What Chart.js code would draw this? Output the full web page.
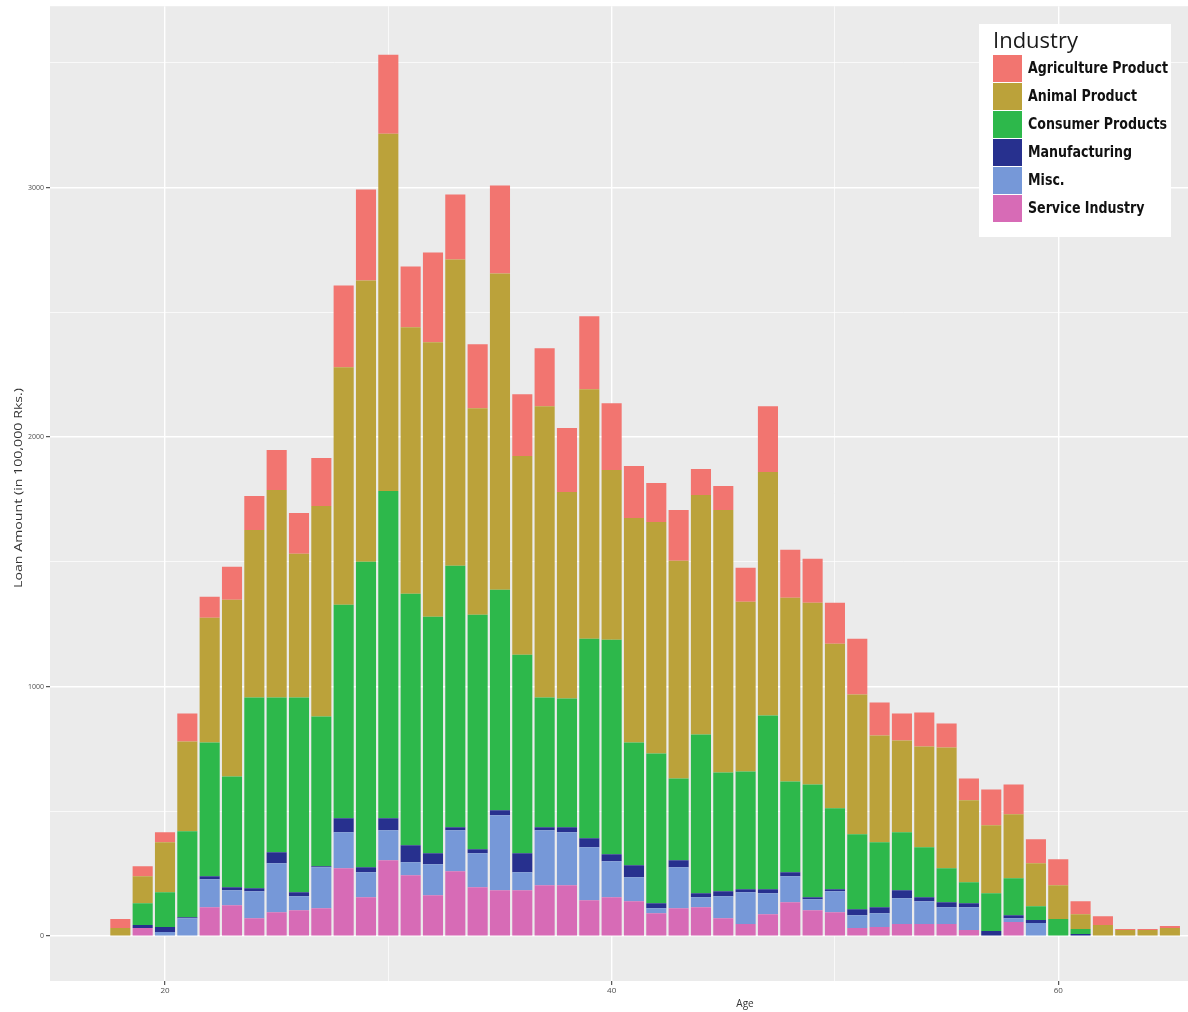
<!DOCTYPE html>
<html>
<head>
<meta charset="utf-8">
<script src="https://cdn.jsdelivr.net/npm/chart.js@4.4.1/dist/chart.umd.min.js"></script>
<style>
html,body{margin:0;padding:0;background:#ffffff;}
#wrap{position:relative;width:1188px;height:1012px;}
canvas{display:block;}
</style>
</head>
<body>
<div id="wrap"><canvas id="c" width="1188" height="1012"></canvas></div>
<script>
// ---- data ----
const ages = [18,19,20,21,22,23,24,25,26,27,28,29,30,31,32,33,34,35,36,37,38,39,40,41,42,43,44,45,46,47,48,49,50,51,52,53,54,55,56,57,58,59,60,61,62,63,64,65];
const serviceIndustry   = [0,32,0,0,116,124,72,96,104,112,272,156,304,244,164,260,196,184,184,204,204,144,156,140,92,112,116,72,48,88,136,104,96,32,36,48,48,48,24,0,56,0,0,0,0,0,0,0];
const miscIndustry      = [0,0,16,72,112,60,108,196,56,164,144,100,120,52,124,164,136,300,72,220,212,212,144,96,20,164,40,88,128,84,104,44,84,52,56,104,92,68,92,0,16,52,0,0,0,0,0,0];
const manufacturing     = [0,12,20,4,12,12,12,44,16,4,56,20,48,68,44,12,16,20,76,12,20,36,28,48,20,28,16,20,12,16,16,8,8,24,24,32,16,20,16,20,12,12,0,8,0,0,0,0];
const consumerProducts  = [0,88,140,344,536,444,764,620,780,600,856,1224,1312,1008,948,1048,940,884,796,520,516,800,860,492,600,328,636,476,472,696,364,452,324,300,260,232,200,136,84,152,148,56,68,20,0,0,0,0];
const animalProduct     = [32,108,200,360,500,708,672,832,576,844,952,1128,1432,1068,1100,1228,828,1268,796,1168,828,1000,680,900,928,872,960,1052,680,976,736,728,660,560,428,368,404,484,328,272,256,172,136,60,44,24,24,32];
const agricultureProduct= [36,40,40,112,84,132,136,160,164,192,328,364,316,244,360,260,256,352,248,232,256,292,268,208,156,204,104,96,136,264,192,176,164,224,132,108,136,96,88,144,120,96,104,52,36,4,4,8];

// stacking order: bottom to top
const seriesNames  = ['Service Industry','Misc.','Manufacturing','Consumer Products','Animal Product','Agriculture Product'];
const seriesValues = [serviceIndustry, miscIndustry, manufacturing, consumerProducts, animalProduct, agricultureProduct];
const seriesColors = ['#D76BB6','#7698D8','#27308E','#2DB84B','#BBA23A','#F27570'];

const xTickValues = [20,30,40,50,60];
const xTickLabels = ['20','','40','','60'];
const yTickValues = [0,500,1000,1500,2000,2500,3000,3500];
const yTickLabels = ['0','','1000','','2000','','3000',''];
const legendTitle = 'Industry';
const xTitle = 'Age';
const yTitle = 'Loan Amount (in 100,000 Rks.)';

// ---- chart ----
const datasets = seriesNames.map((name, i) => ({
  label: name,
  data: ages.map((a, j) => ({x: a, y: seriesValues[i][j]})),
  backgroundColor: seriesColors[i],
  borderWidth: 0,
  barPercentage: 0.9,
  categoryPercentage: 1.0
}));

const panelBg = {
  id: 'panelBg',
  beforeDraw(chart) {
    const a = chart.chartArea, ctx = chart.ctx;
    ctx.save();
    ctx.fillStyle = '#EBEBEB';
    ctx.fillRect(a.left, a.top, a.right - a.left, a.bottom - a.top);
    ctx.restore();
  }
};

const extras = {
  id: 'extras',
  afterDraw(chart) {
    const ctx = chart.ctx;
    ctx.save();
    // axis titles
    ctx.fillStyle = '#333333';
    ctx.font = '10px "Open Sans", sans-serif';
    ctx.textAlign = 'center';
    ctx.textBaseline = 'middle';
    ctx.fillText(xTitle, 745, 1004);
    ctx.save();
    ctx.translate(19, 488);
    ctx.rotate(-Math.PI / 2);
    ctx.font = '11px "Open Sans", sans-serif';
    const tw = ctx.measureText(yTitle).width;
    const sx = 200 / tw;
    ctx.scale(sx, 1);
    ctx.fillText(yTitle, 0, 0);
    ctx.restore();

    // legend box
    ctx.fillStyle = '#ffffff';
    ctx.fillRect(979, 24, 192, 213);
    ctx.fillStyle = '#1a1a1a';
    ctx.textAlign = 'left';
    ctx.textBaseline = 'alphabetic';
    ctx.font = '22px "Open Sans", sans-serif';
    ctx.fillText(legendTitle, 993, 48);
    const items = chart.data.datasets.slice().reverse();
    ctx.font = 'bold 16px "Liberation Sans Narrow", "DejaVu Sans Condensed", sans-serif';
    let maxW = 0;
    items.forEach(ds => { maxW = Math.max(maxW, ctx.measureText(ds.label).width); });
    const fit = Math.min(1, 140 / maxW);
    items.forEach((ds, i) => {
      const y = 55 + i * 28;
      ctx.fillStyle = ds.backgroundColor;
      ctx.fillRect(993, y, 29, 27);
      ctx.fillStyle = '#111111';
      ctx.textBaseline = 'middle';
      ctx.save();
      ctx.translate(1028, y + 14);
      ctx.scale(fit, 1);
      ctx.fillText(ds.label, 0, 0);
      ctx.restore();
    });
    ctx.restore();
  }
};

new Chart(document.getElementById('c'), {
  type: 'bar',
  data: { datasets },
  plugins: [panelBg, extras],
  options: {
    responsive: false,
    animation: false,
    events: [],
    layout: { padding: { top: 6, right: 0, left: 0, bottom: 0 } },
    plugins: { legend: { display: false }, tooltip: { enabled: false } },
    scales: {
      x: {
        type: 'linear',
        stacked: true,
        min: 14.85,
        max: 65.81,
        offset: false,
        afterBuildTicks(scale) { scale.ticks = xTickValues.map(v => ({value: v})); },
        afterFit(scale) { scale.height = 31; },
        border: { display: false },
        grid: {
          offset: false,
          color: '#ffffff',
          lineWidth: ctx => (ctx.tick && ctx.tick.value % 20 === 0) ? 1.4 : 0.7,
          tickColor: ctx => (ctx.tick && ctx.tick.value % 20 === 0) ? '#333333' : 'rgba(0,0,0,0)',
          tickLength: 4,
          tickWidth: 1
        },
        ticks: {
          autoSkip: false,
          maxRotation: 0,
          padding: 1,
          color: '#4D4D4D',
          font: { size: 8, family: '"Open Sans", sans-serif' },
          callback: (v) => { const k = xTickValues.indexOf(v); return k >= 0 ? xTickLabels[k] : ''; }
        }
      },
      y: {
        type: 'linear',
        stacked: true,
        min: -180,
        max: 3727,
        afterBuildTicks(scale) { scale.ticks = yTickValues.map(v => ({value: v})); },
        afterFit(scale) { scale.width = 50; },
        border: { display: false },
        grid: {
          color: '#ffffff',
          lineWidth: ctx => (ctx.tick && ctx.tick.value % 1000 === 0) ? 1.4 : 0.7,
          tickColor: ctx => (ctx.tick && ctx.tick.value % 1000 === 0) ? '#333333' : 'rgba(0,0,0,0)',
          tickLength: 4,
          tickWidth: 1
        },
        ticks: {
          autoSkip: false,
          padding: 2,
          color: '#4D4D4D',
          font: { size: 7, family: '"Open Sans", sans-serif' },
          callback: (v) => { const k = yTickValues.indexOf(v); return k >= 0 ? yTickLabels[k] : ''; }
        }
      }
    }
  }
});
</script>
</body>
</html>
